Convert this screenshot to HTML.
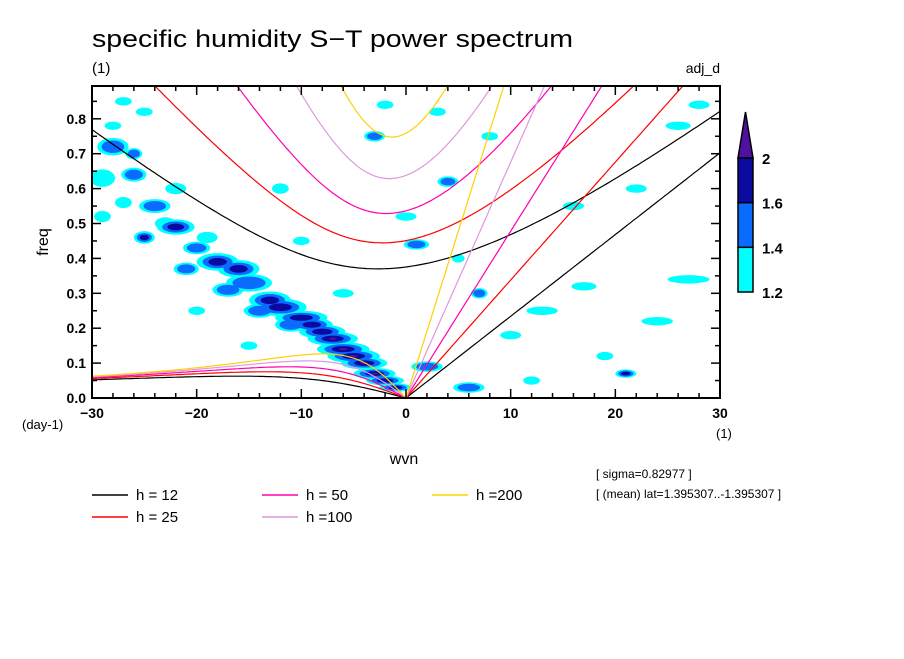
<!DOCTYPE html>
<html><head><meta charset="utf-8"><style>
body{margin:0;background:#fff;}
svg text{font-family:"Liberation Sans",sans-serif;}
</style></head><body>
<svg id="chart" width="904" height="654" xmlns="http://www.w3.org/2000/svg">
<rect width="904" height="654" fill="#fff"/>
<text x="92" y="47" font-size="24" textLength="481" lengthAdjust="spacingAndGlyphs">specific humidity S−T power spectrum</text>
<text x="92" y="73" font-size="15">(1)</text>
<text x="720" y="73" font-size="14" text-anchor="end">adj_d</text>
<clipPath id="clip"><rect x="92" y="86" width="628" height="312"/></clipPath>
<g id="blobs" clip-path="url(#clip)"></g>
<g id="curves" clip-path="url(#clip)"></g>
<rect x="92" y="86" width="628" height="312" fill="none" stroke="#000" stroke-width="2"/>
<g id="axes"></g>
<text x="48" y="242" font-size="16" text-anchor="middle" transform="rotate(-90 48 242)">freq</text>
<text x="404" y="464" font-size="16" text-anchor="middle">wvn</text>
<text x="22" y="429" font-size="13">(day-1)</text>
<text x="716" y="438" font-size="13">(1)</text>
<g id="colorbar"></g>
<g id="legend"></g>
<text x="596" y="478" font-size="12">[ sigma=0.82977 ]</text>
<text x="596" y="498" font-size="12">[ (mean) lat=1.395307..-1.395307 ]</text>
</svg>
<script>
const depths=[12,25,50,100,200];
const depthColors=["#000000","#ff0000","#ff00b0","#dd99dd","#ffd000"];
const xTicks=[-30,-20,-10,0,10,20,30];
const yTicks=[0.0,0.1,0.2,0.3,0.4,0.5,0.6,0.7,0.8];
const cbLevels=[1.2,1.4,1.6,2];
const cbColors=["#00ffff","#0a6cff","#0a0aa0","#5010a0"];
// blobs: wvn, freq, rx (wvn), ry (freq), level index
const blobWvn=[-28,-29,-26,-24,-22,-20,-25,-27,-18,-16,-15,-13,-12,-10,-9,-8,-7,-6,-5,-4,-3,-2,-1,-23,-21,-17,-14,-11,-28,-25,-19,-29,-26,-22,-12,-3,1,4,7,13,17,19,21,24,27,10,-10,-6,0,3,8,16,22,26,-15,-20,2,5,12,28,6,-2,-27];
const blobFreq=[0.72,0.63,0.64,0.55,0.49,0.43,0.46,0.56,0.39,0.37,0.33,0.28,0.26,0.23,0.21,0.19,0.17,0.14,0.12,0.10,0.07,0.05,0.03,0.50,0.37,0.31,0.25,0.21,0.78,0.82,0.46,0.52,0.70,0.60,0.60,0.75,0.44,0.62,0.30,0.25,0.32,0.12,0.07,0.22,0.34,0.18,0.45,0.30,0.52,0.82,0.75,0.55,0.60,0.78,0.15,0.25,0.09,0.40,0.05,0.84,0.03,0.84,0.85];
const blobRx=[1.5,1.2,1.2,1.5,1.8,1.3,1,0.8,2,2,2.2,2,2.5,2.5,2,2.2,2.4,2.5,2.5,2.2,2,1.8,1.5,1,1.2,1.5,1.5,1.5,0.8,0.8,1,0.8,0.8,1,0.8,1,1.2,1,0.8,1.5,1.2,0.8,1,1.5,2,1,0.8,1,1,0.8,0.8,1,1,1.2,0.8,0.8,1.5,0.6,0.8,1,1.5,0.8,0.8];
const blobRy=[0.025,0.025,0.02,0.02,0.022,0.018,0.018,0.016,0.025,0.025,0.025,0.025,0.025,0.02,0.02,0.02,0.02,0.02,0.02,0.018,0.016,0.014,0.012,0.018,0.018,0.02,0.02,0.02,0.012,0.012,0.016,0.016,0.016,0.016,0.015,0.015,0.015,0.015,0.015,0.012,0.012,0.012,0.012,0.012,0.012,0.012,0.012,0.012,0.012,0.012,0.012,0.012,0.012,0.012,0.012,0.012,0.015,0.012,0.012,0.012,0.015,0.012,0.012];
const blobLevel=[2,1,2,2,3,2,3,1,3,3,2,3,3,3,3,3,4,4,4,4,4,3,3,1,2,2,2,2,1,1,1,1,2,1,1,2,2,2,2,1,1,1,3,1,1,1,1,1,1,1,1,1,1,1,1,1,2,1,1,1,2,1,1];

const NS="http://www.w3.org/2000/svg";
const X0=92,X1=720,Y0=398,Y1=86,FMAX=0.894;
const xs=w=>X0+(w+30)/60*(X1-X0);
const ys=f=>Y0-f/FMAX*(Y0-Y1);
function mk(tag,attrs,parent){const e=document.createElementNS(NS,tag);for(const k in attrs)e.setAttribute(k,attrs[k]);parent.appendChild(e);return e;}

const bg=document.getElementById('blobs');
for(let lv=1;lv<=4;lv++){
  for(let i=0;i<blobWvn.length;i++){
    if(blobLevel[i]<lv)continue;
    const s=1-(lv-1)*0.28;
    const e=mk('ellipse',{cx:xs(blobWvn[i]),cy:ys(blobFreq[i]),rx:blobRx[i]*(X1-X0)/60*s,ry:blobRy[i]*(Y0-Y1)/FMAX*s,fill:cbColors[lv-1]},bg);
    
    
  }
}

const g=9.81,beta=2.29e-11,a=6.371e6,cpd=86400/(2*Math.PI);
const cg=document.getElementById('curves');
function path(pts,color,name){
  const p=mk('path',{d:'M'+pts.map(q=>q[0].toFixed(1)+','+q[1].toFixed(1)).join('L'),fill:'none',stroke:color,'stroke-width':1.2},cg);
  
  
}
depths.forEach((h,j)=>{
  const c=Math.sqrt(g*h);
  const ig=[],ros=[],kel=[];
  for(let w=-30;w<=30.001;w+=0.25){
    const k=w/a;
    let om=Math.sqrt(c*c*k*k+3*beta*c);
    for(let it=0;it<30;it++){const f=om*om*om-(c*c*k*k+3*beta*c)*om-beta*c*c*k;const d=3*om*om-(c*c*k*k+3*beta*c);om-=f/d;}
    ig.push([xs(w),ys(om*cpd)]);
    if(w<=0){ros.push([xs(w),ys(-beta*k/(k*k+3*beta/c)*cpd)]);}
    if(w>=0){kel.push([xs(w),ys(c*k*cpd)]);}
  }
  path(ig,depthColors[j],'ig-curve-h'+h);
  path(ros,depthColors[j],'rossby-curve-h'+h);
  path(kel,depthColors[j],'kelvin-line-h'+h);
});

const ax=document.getElementById('axes');
for(let w=-30;w<=30;w+=2){
  const major=w%10===0,L=major?9:5;
  mk('line',{x1:xs(w),x2:xs(w),y1:Y0,y2:Y0-L,stroke:'#000','stroke-width':1.5},ax);
  mk('line',{x1:xs(w),x2:xs(w),y1:Y1,y2:Y1+L,stroke:'#000','stroke-width':1.5},ax);
}
xTicks.forEach(w=>{const t=mk('text',{x:xs(w),y:418,'font-size':14,'font-weight':'bold','text-anchor':'middle'},ax);t.textContent=(w<0?'−':'')+Math.abs(w);
  });
for(let f=0;f<=0.88;f+=0.05){
  const major=Math.round(f*100)%10===0,L=major?9:5;
  mk('line',{x1:X0,x2:X0+L,y1:ys(f),y2:ys(f),stroke:'#000','stroke-width':1.5},ax);
  mk('line',{x1:X1,x2:X1-L,y1:ys(f),y2:ys(f),stroke:'#000','stroke-width':1.5},ax);
}
yTicks.forEach(f=>{const t=mk('text',{x:86,y:ys(f)+5,'font-size':14,'font-weight':'bold','text-anchor':'end'},ax);t.textContent=f.toFixed(1);
  });

// colorbar (equal-height segments per level interval)
const cb=document.getElementById('colorbar');
const cbY=i=>292-i*44.7;
for(let i=0;i<3;i++){const r=mk('rect',{x:738,y:cbY(i+1),width:15,height:44.7,fill:cbColors[i],stroke:'#000','stroke-width':1.5},cb);
  }
const tri=mk('polygon',{points:`738,${cbY(3)} 753,${cbY(3)} 745.5,112`,fill:cbColors[3],stroke:'#000','stroke-width':1.5},cb);

cbLevels.forEach((v,i)=>{const t=mk('text',{x:762,y:cbY(i)+6,'font-size':15,'font-weight':'bold'},cb);t.textContent=String(v);
  });

const lg=document.getElementById('legend');
const labels=['h = 12','h = 25','h = 50','h =100','h =200'];
const lx=[92,92,262,262,432],ly=[495,517,495,517,495];
depths.forEach((h,j)=>{
  const l=mk('line',{x1:lx[j],x2:lx[j]+36,y1:ly[j],y2:ly[j],stroke:depthColors[j],'stroke-width':1.5},lg);
  
  const t=mk('text',{x:lx[j]+44,y:ly[j]+5,'font-size':15},lg);t.textContent=labels[j];
  
});
</script>
</body></html>
